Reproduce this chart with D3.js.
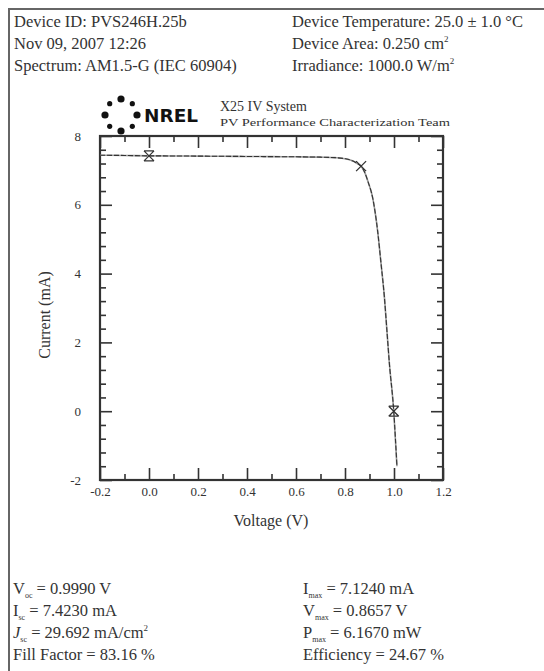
<!DOCTYPE html>
<html>
<head>
<meta charset="utf-8">
<script src="https://cdn.jsdelivr.net/npm/d3@7"></script>
<style>
  body { margin: 0; background: #fff; }
  text { font-family: "Liberation Serif", "DejaVu Serif", serif; fill: #333; }
</style>
</head>
<body>
<svg width="544" height="671"></svg>
<script>
// I-V curve
var voltage = [-0.2, -0.1, 0.0, 0.1, 0.2, 0.3, 0.4, 0.5, 0.6, 0.7, 0.76, 0.8, 0.83, 0.85, 0.8657, 0.88, 0.895, 0.913, 0.933, 0.947, 0.961, 0.971, 0.981, 0.999, 1.012];
var current = [7.44, 7.435, 7.423, 7.42, 7.415, 7.41, 7.405, 7.4, 7.395, 7.385, 7.37, 7.34, 7.28, 7.2, 7.124, 6.95, 6.65, 6.2, 5.25, 4.3, 3.3, 2.35, 1.4, 0.0, -1.6];

// marked points: Isc, Pmax, Voc
var markV = [0.0, 0.8657, 0.999];
var markI = [7.423, 7.124, 0.0];

var xMajor = [-0.2, 0.0, 0.2, 0.4, 0.6, 0.8, 1.0, 1.2];
var xMinor = [-0.1, 0.1, 0.3, 0.5, 0.7, 0.9, 1.1];
var yMajor = [-2, 0, 2, 4, 6, 8];
var yMinor = [-1.6, -1.2, -0.8, -0.4, 0.4, 0.8, 1.2, 1.6, 2.4, 2.8, 3.2, 3.6, 4.4, 4.8, 5.2, 5.6, 6.4, 6.8, 7.2, 7.6];

var headerLeft = ['Device ID: PVS246H.25b', 'Nov 09, 2007 12:26', 'Spectrum: AM1.5-G (IEC 60904)'];

var svg = d3.select('svg');

svg.append('rect').attr('width', 544).attr('height', 671).attr('fill', '#fff');

// outer frame (top + left)
svg.append('path')
  .attr('d', 'M9,671 V9 H544')
  .attr('fill', 'none').attr('stroke', '#666').attr('stroke-width', 2);

// header
var hdr = svg.append('g').style('font-size', '16.5px');
headerLeft.forEach(function(t, i) {
  hdr.append('text').attr('x', 14).attr('y', 27 + i * 22).text(t);
});

var r1 = hdr.append('text').attr('x', 292).attr('y', 27);
r1.text('Device Temperature: 25.0 \u00b1 1.0 \u00b0C');

var r2 = hdr.append('text').attr('x', 292).attr('y', 49);
r2.append('tspan').text('Device Area: 0.250 cm');
r2.append('tspan').attr('dy', -7).style('font-size', '9px').text('2');

var r3 = hdr.append('text').attr('x', 292).attr('y', 71);
r3.append('tspan').text('Irradiance: 1000.0 W/m');
r3.append('tspan').attr('dy', -7).style('font-size', '9px').text('2');

// NREL logo
var logo = svg.append('g').attr('transform', 'translate(121,115)');
d3.range(8).forEach(function(k) {
  var a = k * Math.PI / 4;
  logo.append('circle')
    .attr('cx', 16 * Math.sin(a)).attr('cy', -16 * Math.cos(a))
    .attr('r', k % 2 == 0 ? 3.6 : 2.6)
    .attr('fill', '#111');
});
svg.append('text').attr('x', 144).attr('y', 122)
  .style('font-family', '"DejaVu Sans", sans-serif').style('font-weight', 'bold')
  .style('font-size', '18px').style('fill', '#111')
  .attr('textLength', 54).attr('lengthAdjust', 'spacingAndGlyphs').text('NREL');

svg.append('text').attr('x', 220).attr('y', 111).style('font-size', '14px').text('X25 IV System');
svg.append('text').attr('x', 220).attr('y', 126).style('font-size', '10px')
  .attr('textLength', 230).attr('lengthAdjust', 'spacingAndGlyphs')
  .text('PV Performance Characterization Team');

// plot
var x = d3.scaleLinear().domain([-0.2, 1.2]).range([100, 443]);
var y = d3.scaleLinear().domain([-2, 8]).range([480, 136]);

function styleAxis(g) {
  g.select('.domain').remove();
  g.selectAll('line').attr('stroke', '#333').attr('stroke-width', 1.6);
  g.selectAll('text').style('font-size', '13px').style('font-family', '"Liberation Serif", serif').attr('fill', '#444');
}

svg.append('g').attr('transform', 'translate(0,480)')
  .call(d3.axisBottom(x).tickValues(xMajor).tickSizeInner(-12).tickSizeOuter(0).tickPadding(7)
    .tickFormat(function(d) { return d.toFixed(1); }))
  .call(styleAxis);
svg.append('g').attr('transform', 'translate(0,480)')
  .call(d3.axisBottom(x).tickValues(xMinor).tickSizeInner(-6).tickSizeOuter(0).tickFormat(''))
  .call(styleAxis);
svg.append('g').attr('transform', 'translate(0,136)')
  .call(d3.axisTop(x).tickValues(xMajor).tickSizeInner(-12).tickSizeOuter(0).tickFormat(''))
  .call(styleAxis);
svg.append('g').attr('transform', 'translate(0,136)')
  .call(d3.axisTop(x).tickValues(xMinor).tickSizeInner(-6).tickSizeOuter(0).tickFormat(''))
  .call(styleAxis);

svg.append('g').attr('transform', 'translate(100,0)')
  .call(d3.axisLeft(y).tickValues(yMajor).tickSizeInner(-12).tickSizeOuter(0).tickPadding(19)
    .tickFormat(function(d) { return String(d); }))
  .call(styleAxis);
svg.append('g').attr('transform', 'translate(100,0)')
  .call(d3.axisLeft(y).tickValues(yMinor).tickSizeInner(-6).tickSizeOuter(0).tickFormat(''))
  .call(styleAxis);
svg.append('g').attr('transform', 'translate(443,0)')
  .call(d3.axisRight(y).tickValues(yMajor).tickSizeInner(-12).tickSizeOuter(0).tickFormat(''))
  .call(styleAxis);
svg.append('g').attr('transform', 'translate(443,0)')
  .call(d3.axisRight(y).tickValues(yMinor).tickSizeInner(-6).tickSizeOuter(0).tickFormat(''))
  .call(styleAxis);

svg.append('rect')
  .attr('x', x(-0.2)).attr('y', y(8))
  .attr('width', x(1.2) - x(-0.2)).attr('height', y(-2) - y(8))
  .attr('fill', 'none').attr('stroke', '#333').attr('stroke-width', 2.2);

// curve: light solid under a dark dashed trace
var pts = voltage.map(function(v, i) { return [v, current[i]]; });
var line = d3.line().x(function(d) { return x(d[0]); }).y(function(d) { return y(d[1]); }).curve(d3.curveMonotoneX);
svg.append('path').datum(pts).attr('d', line)
  .attr('fill', 'none').attr('stroke', '#999').attr('stroke-width', 1.6);
svg.append('path').datum(pts).attr('d', line)
  .attr('fill', 'none').attr('stroke', '#333').attr('stroke-width', 1.1).attr('stroke-dasharray', '5,2');

// markers
markV.forEach(function(v, i) {
  var cx = x(v), cy = y(markI[i]), s = 5;
  svg.append('path')
    .attr('d', 'M' + (cx - s) + ',' + (cy - s) + 'L' + (cx + s) + ',' + (cy + s) +
               'M' + (cx - s) + ',' + (cy + s) + 'L' + (cx + s) + ',' + (cy - s) +
               (i != 1 ? 'M' + (cx - s) + ',' + (cy - s) + 'H' + (cx + s) + 'M' + (cx - s) + ',' + (cy + s) + 'H' + (cx + s) : ''))
    .attr('stroke', '#333').attr('stroke-width', 1.3).attr('fill', 'none');
});

// axis titles
svg.append('text').attr('transform', 'translate(50,315) rotate(-90)')
  .attr('text-anchor', 'middle').style('font-size', '16px').text('Current (mA)');
svg.append('text').attr('x', 271).attr('y', 526)
  .attr('text-anchor', 'middle').style('font-size', '16px').text('Voltage (V)');

// results
var stats = [
  [13, 594, 'V', 'oc', ' = 0.9990 V', false],
  [13, 616, 'I', 'sc', ' = 7.4230 mA', false],
  [13, 638, 'J', 'sc', ' = 29.692 mA/cm', true],
  [13, 660, 'Fill Factor = 83.16 %', '', '', false],
  [303, 594, 'I', 'max', ' = 7.1240 mA', false],
  [303, 616, 'V', 'max', ' = 0.8657 V', false],
  [303, 638, 'P', 'max', ' = 6.1670 mW', false],
  [303, 660, 'Efficiency = 24.67 %', '', '', false]
];
var st = svg.append('g').style('font-size', '16.5px');
stats.forEach(function(s) {
  var t = st.append('text').attr('x', s[0]).attr('y', s[1]);
  t.append('tspan').text(s[2]).style('font-style', s[2] == 'J' ? 'italic' : 'normal');
  if (s[3]) {
    t.append('tspan').attr('dy', 4).style('font-size', '8px').text(s[3]);
    t.append('tspan').attr('dy', -4).text(s[4]);
  }
  if (s[5]) {
    t.append('tspan').attr('dy', -7).style('font-size', '9px').text('2');
  }
});
</script>
</body>
</html>
